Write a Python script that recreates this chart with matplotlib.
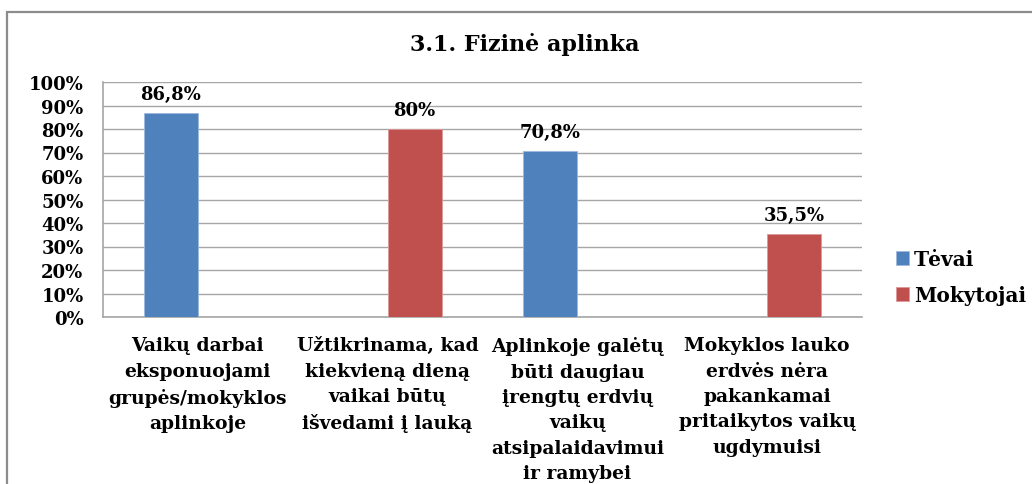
import numpy as np
import matplotlib
matplotlib.use("Agg")
import matplotlib.pyplot as plt
from matplotlib.patches import Rectangle

categories = [
    "Vaikų darbai\neksponuojami\ngrupės/mokyklos\naplinkoje",
    "Užtikrinama, kad\nkiekvieną dieną\nvaikai būtų\nišvedami į lauką",
    "Aplinkoje galėtų\nbūti daugiau\nįrengtų erdvių\nvaikų\natsipalaidavimui\nir ramybei",
    "Mokyklos lauko\nerdvės nėra\npakankamai\npritaikytos vaikų\nugdymuisi",
]
series_names = ["Tėvai", "Mokytojai"]
tevai = [86.8, np.nan, 70.8, np.nan]
mokytojai = [np.nan, 80.0, np.nan, 35.5]
yticks = [0, 10, 20, 30, 40, 50, 60, 70, 80, 90, 100]
title = "3.1. Fizinė aplinka"

colors = ["#4F81BD", "#C0504D"]
FONT = "DejaVu Serif"

W, H = 1032, 485
fig = plt.figure(figsize=(W / 100, H / 100), dpi=100)
fig.patch.set_facecolor("white")

# outer chart frame
fig.patches.append(Rectangle((7 / W, -0.2), 1.2, (H - 13) / H + 0.2,
                             transform=fig.transFigure, fill=False,
                             edgecolor="#8c8c8c", linewidth=1.6))

ax = fig.add_axes([103 / W, (H - 318) / H, (862 - 103) / W, (318 - 83) / H])
x = np.arange(len(categories))
bw = 1 / 3.5
b1 = ax.bar(x - bw / 2, tevai, bw, color=colors[0], label=series_names[0],
            edgecolor="#9db9dd", linewidth=0.6, zorder=3)
b2 = ax.bar(x + bw / 2, mokytojai, bw, color=colors[1], label=series_names[1],
            edgecolor="#dd9896", linewidth=0.6, zorder=3)

def fmt(v):
    if np.isnan(v):
        return ""
    s = f"{v:g}".replace(".", ",")
    return s + "%"

for bars, vals in ((b1, tevai), (b2, mokytojai)):
    for rect, v in zip(bars, vals):
        if np.isnan(v):
            continue
        ax.annotate(fmt(v), (rect.get_x() + rect.get_width() / 2, v),
                    xytext=(0, 10), textcoords="offset points",
                    ha="center", va="baseline", fontsize=13,
                    fontweight="bold", family=FONT, color="black")

ax.set_xlim(-0.5, len(categories) - 0.5)
ax.set_ylim(0, 100)
ax.set_yticks(yticks)
ax.set_yticklabels([f"{t}%" for t in yticks], fontsize=13,
                   fontweight="bold", family=FONT)
ax.tick_params(axis="y", length=0, pad=14)
ax.set_xticks(x)
ax.set_xticklabels(categories, fontsize=13.5, fontweight="bold",
                   family=FONT, linespacing=1.52)
ax.tick_params(axis="x", length=0, pad=14)
ax.grid(axis="y", color="#a6a6a6", linewidth=1.0, zorder=0)
ax.set_axisbelow(True)
for s in ("top", "right"):
    ax.spines[s].set_visible(False)
for s in ("left", "bottom"):
    ax.spines[s].set_color("#a6a6a6")
    ax.spines[s].set_linewidth(1.2)

fig.text(525 / W, (H - 45) / H, title, ha="center", va="center",
         fontsize=16, fontweight="bold", family=FONT)

fig.legend(handles=[b1, b2], labels=series_names, loc="center left",
           bbox_to_anchor=(896 / W, (H - 278) / H), frameon=False,
           prop={"family": FONT, "weight": "bold", "size": 14.5},
           handlelength=0.65, handleheight=0.65, handletextpad=0.25,
           labelspacing=0.8, borderpad=0, borderaxespad=0)

fig.savefig("out.png", dpi=100, facecolor="white")
